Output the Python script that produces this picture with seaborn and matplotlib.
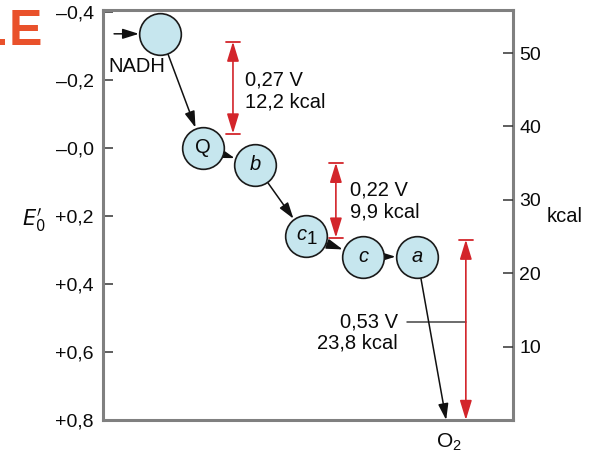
import matplotlib
matplotlib.use("Agg")
import matplotlib.pyplot as plt
from matplotlib.patches import Rectangle
import seaborn as sns
import pandas as pd

# Electron carriers: horizontal position (arbitrary units) and redox potential E0' (V)
carriers = ["NADH", "Q", "b", "c1", "c", "a"]
carrier_x = [14.0, 24.4, 37.1, 49.5, 63.4, 76.6]
carrier_e = [-0.335, 0.0, 0.05, 0.26, 0.32, 0.32]
oxygen_x = 83.7
oxygen_e = 0.80

# Electron flow between carriers (index pairs)
flow = [(0, 1), (1, 2), (2, 3), (3, 4), (4, 5)]

# Potential drops (energy-releasing steps): lower end, size in V and kcal
drop_x = [31.7, 56.8, 88.5]
drop_bottom = [-0.042, 0.264, 0.80]
drop_volts = [0.27, 0.22, 0.53]
drop_kcal = [12.2, 9.9, 23.8]

e_ticks = [-0.4, -0.2, 0.0, 0.2, 0.4, 0.6, 0.8]
e_labels = ["\u20130,4", "\u20130,2", "\u20130,0", "+0,2", "+0,4", "+0,6", "+0,8"]
kcal_ticks = [10, 20, 30, 40, 50]


def decimal_comma(v, digits):
    return f"{v:.{digits}f}".replace(".", ",")


sns.set_theme(style="white")
plt.rcParams["font.family"] = ["Liberation Sans", "DejaVu Sans"]
plt.rcParams["text.color"] = "#0a0a0a"

W, H = 589, 457
fig = plt.figure(figsize=(W / 100, H / 100), dpi=100)
ax = fig.add_axes([103 / W, 1 - 420 / H, 410 / W, 410 / H])

df = pd.DataFrame({"carrier": carriers, "x": carrier_x, "E": carrier_e})

# Carrier circles
sns.scatterplot(data=df, x="x", y="E", ax=ax, s=900, color="#c6e6ee",
                edgecolor="#1a1a1a", linewidth=1.2, zorder=5, legend=False)
ax.set_xlabel("")
ax.set_ylabel("")
ax.set_xlim(0, 100)
ax.set_ylim(0.8, -0.405)

frame_col = "#808080"
for s in ax.spines.values():
    s.set_color(frame_col)
    s.set_linewidth(2.2)
    s.set_visible(True)

txt = 14.5
ax.set_xticks([])
ax.set_yticks(e_ticks)
ax.set_yticklabels(e_labels, fontsize=14)
ax.tick_params(axis="y", direction="in", length=7, width=1.1, color="#333333",
               pad=6.5, left=True, labelcolor="#0a0a0a")

# Energy scale on the right
ax2 = ax.twinx()
ax2.set_ylim(0, 55.86)
ax2.set_yticks(kcal_ticks)
ax2.set_yticklabels([str(t) for t in kcal_ticks], fontsize=14)
ax2.tick_params(axis="y", direction="in", length=7, width=1.1, color="#333333",
                pad=4.5, right=True, labelcolor="#0a0a0a")
for s in ax2.spines.values():
    s.set_visible(False)

# Arrows of electron flow
arrow_kw = dict(arrowstyle="-|>,head_length=0.7,head_width=0.22", color="#111111",
                lw=1.1, mutation_scale=14)
ax.annotate("", xy=(carrier_x[0], carrier_e[0]), xytext=(2.7, carrier_e[0]),
            arrowprops=dict(shrinkA=0, shrinkB=15.5, **arrow_kw))
for i, j in flow:
    ax.annotate("", xy=(carrier_x[j], carrier_e[j]), xytext=(carrier_x[i], carrier_e[i]),
                arrowprops=dict(shrinkA=15.5, shrinkB=15.5, **arrow_kw))
ax.annotate("", xy=(oxygen_x, oxygen_e), xytext=(carrier_x[-1], carrier_e[-1]),
            arrowprops=dict(shrinkA=15.5, shrinkB=0, **arrow_kw), annotation_clip=False)

# Carrier names
for name, x, e in zip(carriers, carrier_x, carrier_e):
    if name == "NADH":
        continue
    if name == "Q":
        ax.text(x, e, "Q", fontsize=txt, ha="center", va="center", zorder=6)
    elif name == "c1":
        ax.annotate("c", (x, e), xytext=(-3.5, 1), textcoords="offset points",
                    fontsize=txt, style="italic", ha="center", va="center", zorder=6)
        ax.annotate("1", (x, e), xytext=(4.5, -2), textcoords="offset points",
                    fontsize=13.5, ha="center", va="center", zorder=6)
    else:
        ax.text(x, e, name, fontsize=txt, style="italic", ha="center", va="center", zorder=6)

ax.text(8.3, -0.239, "NADH", fontsize=txt, ha="center", va="center")
ax.text(oxygen_x + 0.6, 0.865, "O$_\\mathregular{2}$", fontsize=15, ha="center", va="center",
        clip_on=False)

# Potential drops: double arrows spanning the stated voltage
red = "#d3252b"
cap = 1.7
for k, (x, b, v) in enumerate(zip(drop_x, drop_bottom, drop_volts)):
    t = b - v
    ax.annotate("", xy=(x, b), xytext=(x, t),
                arrowprops=dict(arrowstyle="<|-|>,head_length=0.85,head_width=0.26",
                                color=red, lw=1.2, mutation_scale=14, shrinkA=0, shrinkB=0),
                annotation_clip=False)
    ax.plot([x - cap, x + cap], [t, t], color=red, lw=1.3)
    if k < 2:
        ax.plot([x - cap, x + cap], [b, b], color=red, lw=1.3)

volt_text = [decimal_comma(v, 2) + " V" for v in drop_volts]
kcal_text = [decimal_comma(k, 1) + " kcal" for k in drop_kcal]

ax.text(34.6, -0.199, volt_text[0], fontsize=txt, ha="left", va="center")
ax.text(34.6, -0.135, kcal_text[0], fontsize=txt, ha="left", va="center")
ax.text(60.2, 0.124, volt_text[1], fontsize=txt, ha="left", va="center")
ax.text(60.2, 0.189, kcal_text[1], fontsize=txt, ha="left", va="center")
ax.text(71.9, 0.512, volt_text[2], fontsize=txt, ha="right", va="center")
ax.text(71.9, 0.574, kcal_text[2], fontsize=txt, ha="right", va="center")
ax.plot([74.1, drop_x[2]], [0.512, 0.512], color="#444444", lw=1.1)

# Axis titles
fig.text(22 / W, 1 - 225 / H, r"$E_{\mathrm{0}}^{\prime}$", fontsize=15, ha="left",
         va="baseline", math_fontfamily="dejavusans")
fig.text(547 / W, 1 - 217 / H, "kcal", fontsize=txt, ha="left", va="center")

# Panel letter
panel_red = "#e9512b"
fig.text(9 / W, 1 - 45 / H, "E", fontsize=36, fontweight="bold", color=panel_red,
         ha="left", va="baseline")
fig.patches.append(Rectangle((0, 1 - 45 / H), 5 / W, 6 / H, transform=fig.transFigure,
                             facecolor=panel_red, edgecolor="none"))

fig.savefig("out.png", dpi=100)
